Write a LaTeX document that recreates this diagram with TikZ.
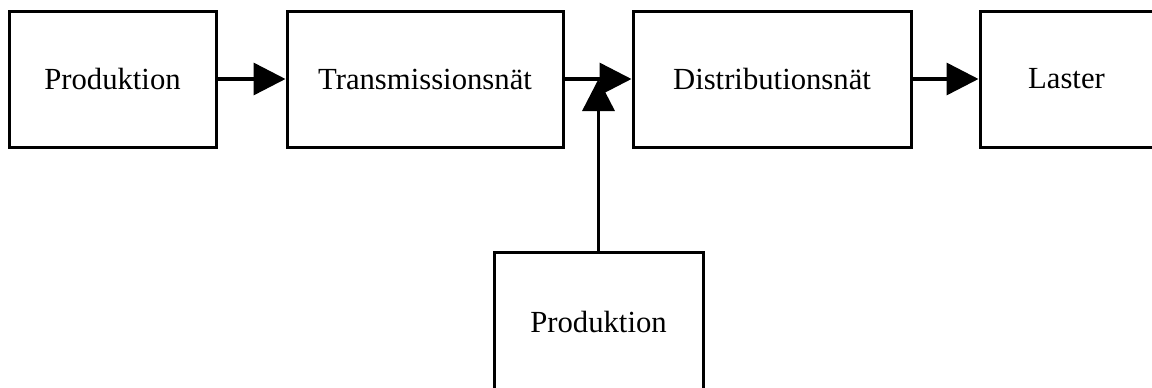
\documentclass[tikz,border=0pt]{standalone}
\usepackage{fontspec}
\setmainfont{Liberation Serif}
\usetikzlibrary{arrows.meta}
\begin{document}
\begin{tikzpicture}[x=1pt,y=-1pt,
  box/.style={draw=black,line width=3pt,rectangle,inner sep=0pt,minimum height=136pt,
    font=\fontsize{30.7}{36}\selectfont},
  flow/.style={line width=3.5pt,-{Triangle[length=32pt,width=32pt]}}]
\path[use as bounding box,clip] (0,0) rectangle (1152,388);
\node[box,minimum width=207pt] (p1) at (112.5,79) {Produktion};
\node[box,minimum width=276pt] (tn) at (425,79) {Transmissionsnät};
\node[box,minimum width=278pt] (dn) at (772,79) {Distributionsnät};
\node[box,minimum width=173pt] (la) at (1066.5,79) {Laster};
\node[box,minimum width=209pt,minimum height=140pt] (p2) at (598.5,322) {Produktion};
\coordinate (j) at (p2.north |- tn.east);
\draw[flow] (p1.east) -- (tn.west);
\draw[flow] (tn.east) -- (dn.west);
\draw[flow] (dn.east) -- (la.west);
\draw[flow] (p2.north) -- (j);
\end{tikzpicture}
\end{document}
